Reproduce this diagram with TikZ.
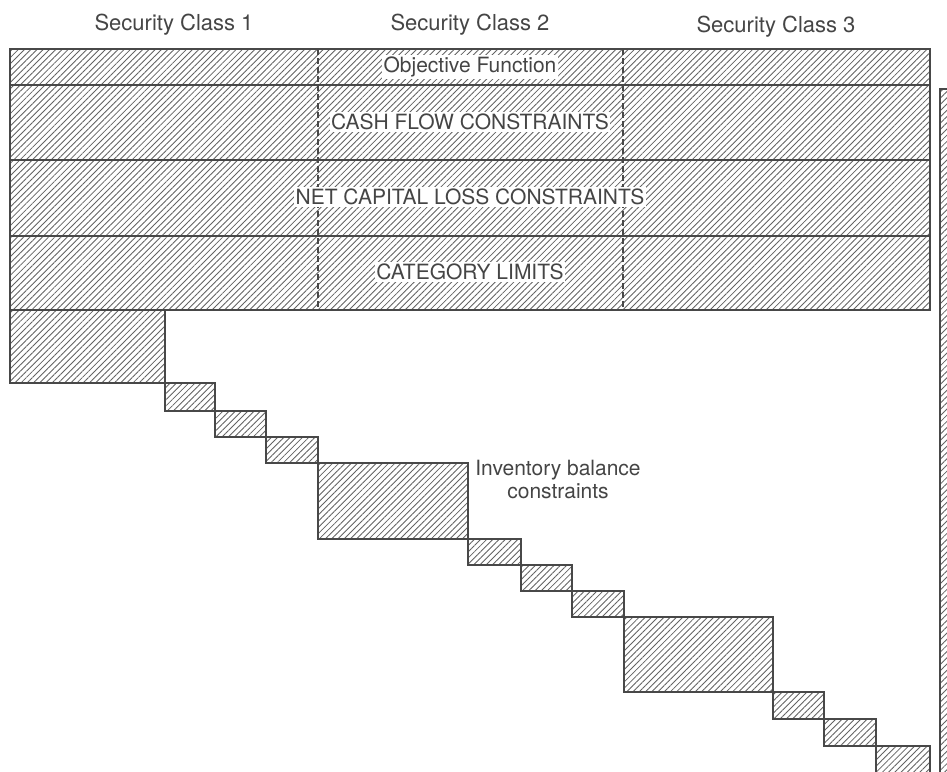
\documentclass[tikz,border=0pt]{standalone}
\usepackage{fontspec}
\setmainfont{TeX Gyre Heros}
\usetikzlibrary{patterns.meta}
\definecolor{ink}{HTML}{484848}
\definecolor{txt}{HTML}{454545}
\tikzset{
  hatchbox/.style={draw=ink, line width=2.8pt,
     pattern={Lines[angle=45,distance=4.4pt,line width=0.85pt]}, pattern color=ink!85},
  sep/.style={draw=ink, line width=2.6pt},
  dashsep/.style={draw=ink, line width=1.3pt, dash pattern=on 6pt off 3pt},
  lbl/.style={font=\fontsize{21}{23}\selectfont, text=txt, fill=white, inner sep=1.5pt},
  head/.style={font=\fontsize{22}{24}\selectfont, text=txt, inner sep=0pt},
  note/.style={font=\fontsize{21}{23}\selectfont, text=txt, inner sep=0pt, align=center},
}
\begin{document}
\begin{tikzpicture}[x=1pt,y=-1pt]
\fill[white] (0,0) rectangle (947,771);
\useasboundingbox (0,0) rectangle (947,771);
% headers
\node[head] (h1) at (174,25) {Security Class 1};
\node[head] (h2) at (470,25) {Security Class 2};
\node[head] (h3) at (776,27) {Security Class 3};
% top band
\path[hatchbox] (10,49) rectangle (930,310);
\draw[sep] (10,85) -- (930,85);
\draw[sep] (10,160) -- (930,160);
\draw[sep] (10,236) -- (930,236);
\draw[dashsep] (318,49) -- (318,310);
\draw[dashsep] (623,49) -- (623,310);
\node[lbl] (obj) at (470,67) {Objective Function};
\node[lbl] (cash) at (470,122) {CASH FLOW CONSTRAINTS};
\node[lbl] (ncl) at (470,197) {NET CAPITAL LOSS CONSTRAINTS};
\node[lbl] (cat) at (470,272) {CATEGORY LIMITS};
% diagonal blocks
\foreach \a/\b/\c/\d in {10/310/165/383, 165/383/215/411, 215/411/266/437, 266/437/318/463,
  318/463/468/539, 468/539/521/565, 521/565/572/591, 572/591/624/617,
  624/617/773/692, 773/692/824/719, 824/719/876/746, 876/746/930/790}
  \path[hatchbox] (\a,\b) rectangle (\c,\d);
% right strip
\path[hatchbox] (940,89) rectangle (960,790);
\node[note] (inv) at (558,479) {Inventory balance\\constraints};
\end{tikzpicture}
\end{document}
